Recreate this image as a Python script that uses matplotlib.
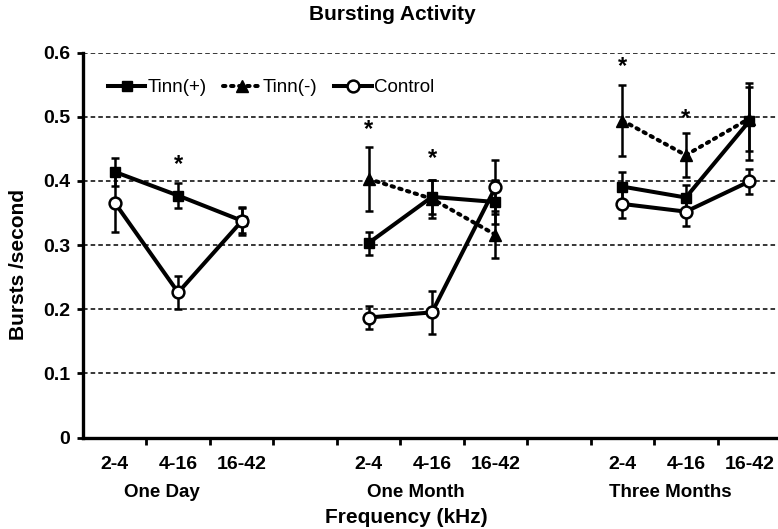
import numpy as np
import matplotlib.pyplot as plt

plt.rcParams['font.family'] = ['Liberation Sans', 'DejaVu Sans']

# Categories
freq_labels = ['2-4', '4-16', '16-42']
group_labels = ['One Day', 'One Month', 'Three Months']

# Values per group (One Day, One Month, Three Months), each 2-4, 4-16, 16-42
tinn_pos = [[0.414, 0.377, 0.338], [0.303, 0.375, 0.367], [0.391, 0.374, 0.493]]
tinn_pos_err = [[0.022, 0.020, 0.020], [0.018, 0.027, 0.035], [0.023, 0.020, 0.060]]
tinn_neg = [[np.nan, np.nan, np.nan], [0.403, 0.372, 0.316], [0.494, 0.440, 0.497]]
tinn_neg_err = [[np.nan, np.nan, np.nan], [0.050, 0.030, 0.037], [0.056, 0.034, 0.050]]
control = [[0.366, 0.226, 0.337], [0.187, 0.195, 0.390], [0.364, 0.352, 0.399]]
control_err = [[0.045, 0.025, 0.022], [0.018, 0.033, 0.042], [0.022, 0.022, 0.020]]

# significance marks: (group, frequency index, height)
stars = [(0, 1, 0.425), (1, 0, 0.48), (1, 1, 0.435), (2, 0, 0.578), (2, 1, 0.497)]

fig = plt.figure(figsize=(7.78, 5.29), dpi=100)
ax = fig.add_axes([83 / 778, 91.5 / 529, 698 / 778, 385 / 529])

lw = 2.9
for g in range(3):
    x = np.arange(3) + 4 * g
    ax.errorbar(x, control[g], yerr=control_err[g], fmt='none', ecolor='black',
                elinewidth=1.8, capsize=3, capthick=1.8, zorder=3)
    ax.errorbar(x, tinn_pos[g], yerr=tinn_pos_err[g], fmt='none', ecolor='black',
                elinewidth=1.8, capsize=3, capthick=1.8, zorder=3)
    ax.errorbar(x, tinn_neg[g], yerr=tinn_neg_err[g], fmt='none', ecolor='black',
                elinewidth=1.8, capsize=3, capthick=1.8, zorder=3)
    ax.plot(x, tinn_pos[g], color='black', lw=lw, marker='s', ms=7,
            label='Tinn(+)' if g == 0 else None, zorder=4)
    ax.plot(x, tinn_neg[g], color='black', lw=lw, ls=(0, (0.6, 1.4)), dash_capstyle='round',
            marker='^', ms=8, label='Tinn(-)' if g == 0 else None, zorder=4)
    ax.plot(x, control[g], color='black', lw=lw, marker='o', ms=8.5, mfc='white',
            mec='black', mew=1.8, label='Control' if g == 0 else None, zorder=5)

for g, i, h in stars:
    ax.text(4 * g + i, h, '*', ha='center', va='center', fontsize=17, fontweight='bold')

ax.set_xlim(-0.5, 10.5)
ax.set_ylim(0, 0.6)
yt = [0, 0.1, 0.2, 0.3, 0.4, 0.5, 0.6]
ax.set_yticks(yt, ['0' if v == 0 else f'{v:.1f}' for v in yt],
              fontsize=14, fontweight='bold')
for v in yt[1:]:
    ax.axhline(v, color='black', lw=1.1, ls=(0, (3, 2)), zorder=1)

centers = [4 * g + i for g in range(3) for i in range(3)]
ax.set_xticks(centers, freq_labels * 3, fontsize=14, fontweight='bold')
ax.set_xticks(np.arange(0.5, 10, 1), minor=True)
ax.tick_params(axis='x', which='major', length=0, pad=13)
ax.tick_params(axis='x', which='minor', length=5, width=2, direction='out')
ax.tick_params(axis='y', length=4, width=2, direction='out', pad=5)

for spine in ['top', 'right']:
    ax.spines[spine].set_visible(False)
for spine in ['left', 'bottom']:
    ax.spines[spine].set_linewidth(2.4)

for g, name in enumerate(group_labels):
    ax.text(4 * g + 1 - 0.25, -0.142, name, ha='center', va='center',
            fontsize=13.5, fontweight='bold', transform=ax.get_xaxis_transform(), clip_on=False)
ax.text(4.6, -0.209, 'Frequency (kHz)', ha='center', va='center',
        fontsize=15, fontweight='bold', transform=ax.get_xaxis_transform(), clip_on=False)

fig.text(19 / 778, 1 - 265 / 529, 'Bursts /second', rotation=90, ha='center', va='center',
         fontsize=15, fontweight='bold')
fig.text(392 / 778, 1 - 15 / 529, 'Bursting Activity', ha='center', va='center',
         fontsize=15, fontweight='bold')

ax.legend(loc='center left', bbox_to_anchor=(0.025, 0.908), ncol=3, frameon=False,
          fontsize=13.5, handlelength=2.0, handletextpad=0.1, columnspacing=0.9,
          borderaxespad=0, numpoints=1)

fig.savefig('out.png', dpi=100)
